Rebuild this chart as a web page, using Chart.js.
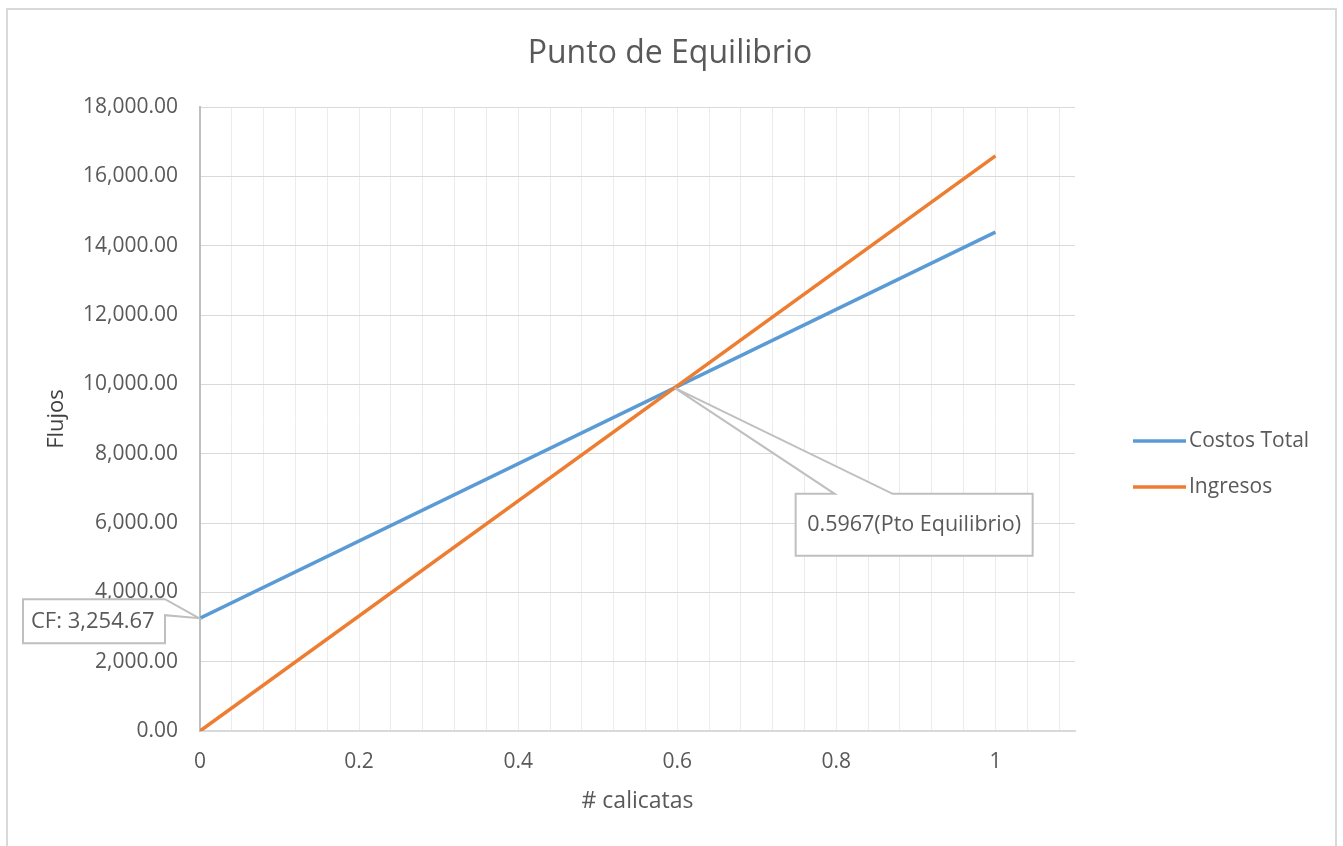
<!DOCTYPE html>
<html><head><meta charset="utf-8">
<script src="https://cdn.jsdelivr.net/npm/chart.js@4/dist/chart.umd.min.js"></script>
<style>html,body{margin:0;padding:0;background:#fff;overflow:hidden}#wrap{width:1343px;height:846px}</style>
</head><body><div id="wrap"><canvas id="c" width="1343" height="846"></canvas></div>
<script>
const chartTitle = 'Punto de Equilibrio';
const xAxisTitle = '# calicatas';
const yAxisTitle = 'Flujos';
const seriesNames = ['Costos Total', 'Ingresos'];
const seriesColors = ['#5B9BD5', '#ED7D31'];
const calicatas = [0, 1];
const costosTotal = [3254.67, 14390];
const ingresos = [0, 16590];
const costoFijo = 3254.67;
const puntoEquilibrio = 0.5967;
const yMax = 18000, yStep = 2000;
const xMax = 1.1, xMinorStep = 0.04, xLabelStep = 0.2;

const FONT = "'Open Sans', 'DejaVu Sans', sans-serif";
const TXT = '#595959';

function fmt2(v){ return v.toLocaleString('en-US',{minimumFractionDigits:2, maximumFractionDigits:2}); }

function calloutPath(ctx, box, apex, wedgeA, wedgeB, side){
  ctx.beginPath();
  if(side === 'right'){
    ctx.moveTo(box.l, box.t);
    ctx.lineTo(box.r, box.t);
    ctx.lineTo(apex.x, apex.y);
    ctx.lineTo(box.r, wedgeB);
    ctx.lineTo(box.r, box.b);
    ctx.lineTo(box.l, box.b);
    ctx.closePath();
  } else {
    ctx.moveTo(box.l, box.t);
    ctx.lineTo(wedgeA, box.t);
    ctx.lineTo(apex.x, apex.y);
    ctx.lineTo(wedgeB, box.t);
    ctx.lineTo(box.r, box.t);
    ctx.lineTo(box.r, box.b);
    ctx.lineTo(box.l, box.b);
    ctx.closePath();
  }
}

const decor = {
  id: 'decor',
  beforeDraw(chart){
    const ctx = chart.ctx;
    ctx.save();
    ctx.fillStyle = '#fff';
    ctx.fillRect(0,0,chart.width,chart.height);
    ctx.strokeStyle = '#d9d9d9';
    ctx.lineWidth = 2;
    ctx.strokeRect(7, 9, 1329, 900);
    ctx.fillStyle = TXT;
    ctx.font = "32px " + FONT;
    ctx.textAlign = 'center';
    ctx.textBaseline = 'middle';
    ctx.fillText(chartTitle, 670, 54);
    ctx.restore();
  },
  afterDatasetsDraw(chart){
    const ctx = chart.ctx;
    const xs = chart.scales.x, ys = chart.scales.y;
    ctx.save();
    // callout 1: fixed cost
    const a1 = {x: xs.getPixelForValue(calicatas[0]), y: ys.getPixelForValue(costoFijo)};
    const b1 = {l: a1.x-177, r: a1.x-35, t: a1.y-19, b: a1.y+25};
    ctx.fillStyle = '#fff';
    ctx.strokeStyle = '#bfbfbf';
    ctx.lineWidth = 2;
    calloutPath(ctx, b1, {x:a1.x-1, y:a1.y}, 0, a1.y-3, 'right');
    ctx.fill(); ctx.stroke();
    ctx.fillStyle = TXT;
    ctx.font = "22px " + FONT;
    ctx.textAlign = 'left';
    ctx.textBaseline = 'middle';
    ctx.fillText('CF: ' + fmt2(costoFijo), b1.l+8, a1.y+4);
    // callout 2: break-even
    const t = (puntoEquilibrio - calicatas[0])/(calicatas[1]-calicatas[0]);
    const yBE = costosTotal[0] + (costosTotal[1]-costosTotal[0])*t;
    const a2 = {x: xs.getPixelForValue(puntoEquilibrio), y: ys.getPixelForValue(yBE)};
    const b2 = {l: a2.x+121, r: a2.x+358, t: a2.y+106, b: a2.y+168};
    ctx.fillStyle = '#fff';
    ctx.strokeStyle = '#bfbfbf';
    calloutPath(ctx, b2, a2, a2.x+160, a2.x+218, 'top');
    ctx.fill(); ctx.stroke();
    ctx.fillStyle = TXT;
    ctx.textAlign = 'center';
    ctx.font = "21.5px " + FONT;
    ctx.fillText(puntoEquilibrio.toFixed(4) + '(Pto Equilibrio)', (b2.l+b2.r)/2, (b2.t+b2.b)/2);
    // legend
    const ds = chart.data.datasets;
    const legY = [441, 487];
    ds.forEach((d,i)=>{
      ctx.strokeStyle = d.borderColor;
      ctx.lineWidth = 3.5;
      ctx.beginPath();
      ctx.moveTo(1133, legY[i]); ctx.lineTo(1186, legY[i]); ctx.stroke();
      ctx.fillStyle = TXT;
      ctx.textAlign = 'left';
      ctx.font = "21px " + FONT;
      ctx.fillText(d.label, 1189, legY[i]);
    });
    ctx.restore();
  }
};

const isMult = (v, s) => Math.abs(v/s - Math.round(v/s)) < 1e-6;

new Chart(document.getElementById('c'), {
  type: 'line',
  data: {
    datasets: [
      {label: seriesNames[0], data: calicatas.map((x,i)=>({x, y: costosTotal[i]})), borderColor: seriesColors[0], backgroundColor: seriesColors[0], borderWidth: 3.5, pointRadius: 0, order: 1},
      {label: seriesNames[1], data: calicatas.map((x,i)=>({x, y: ingresos[i]})), borderColor: seriesColors[1], backgroundColor: seriesColors[1], borderWidth: 3.5, pointRadius: 0, order: 0}
    ]
  },
  options: {
    responsive: false,
    devicePixelRatio: 1,
    animation: false,
    layout: {padding: {left: 0, top: 107, right: 268, bottom: 0}},
    plugins: {legend: {display: false}, title: {display: false}, tooltip: {enabled: false}},
    scales: {
      x: {
        type: 'linear', min: 0, max: xMax,
        afterFit(s){ s.height = 115; },
        grid: {color: '#ececec', lineWidth: 1, drawTicks: false},
        border: {color: '#d9d9d9', width: 2},
        ticks: {stepSize: xMinorStep, includeBounds: false, autoSkip: false, maxRotation: 0, padding: 18,
          color: TXT, font: {family: FONT, size: 21},
          callback: v => isMult(v, xLabelStep) ? String(Math.round(v*10)/10) : ''},
        title: {display: true, text: xAxisTitle, color: TXT, font: {family: FONT, size: 23}, padding: {top: 0, bottom: 31}}
      },
      y: {
        min: 0, max: yMax,
        afterFit(s){ s.width = 200; },
        grid: {color: '#d9d9d9', lineWidth: 1, drawTicks: false},
        border: {color: '#bfbfbf', width: 2},
        ticks: {stepSize: yStep, padding: 22, color: TXT, font: {family: FONT, size: 21}, callback: v => fmt2(v)},
        title: {display: true, text: yAxisTitle, color: '#404040', font: {family: FONT, size: 22}, padding: {top: 44, bottom: 0}}
      }
    }
  },
  plugins: [decor]
});
</script></body></html>
